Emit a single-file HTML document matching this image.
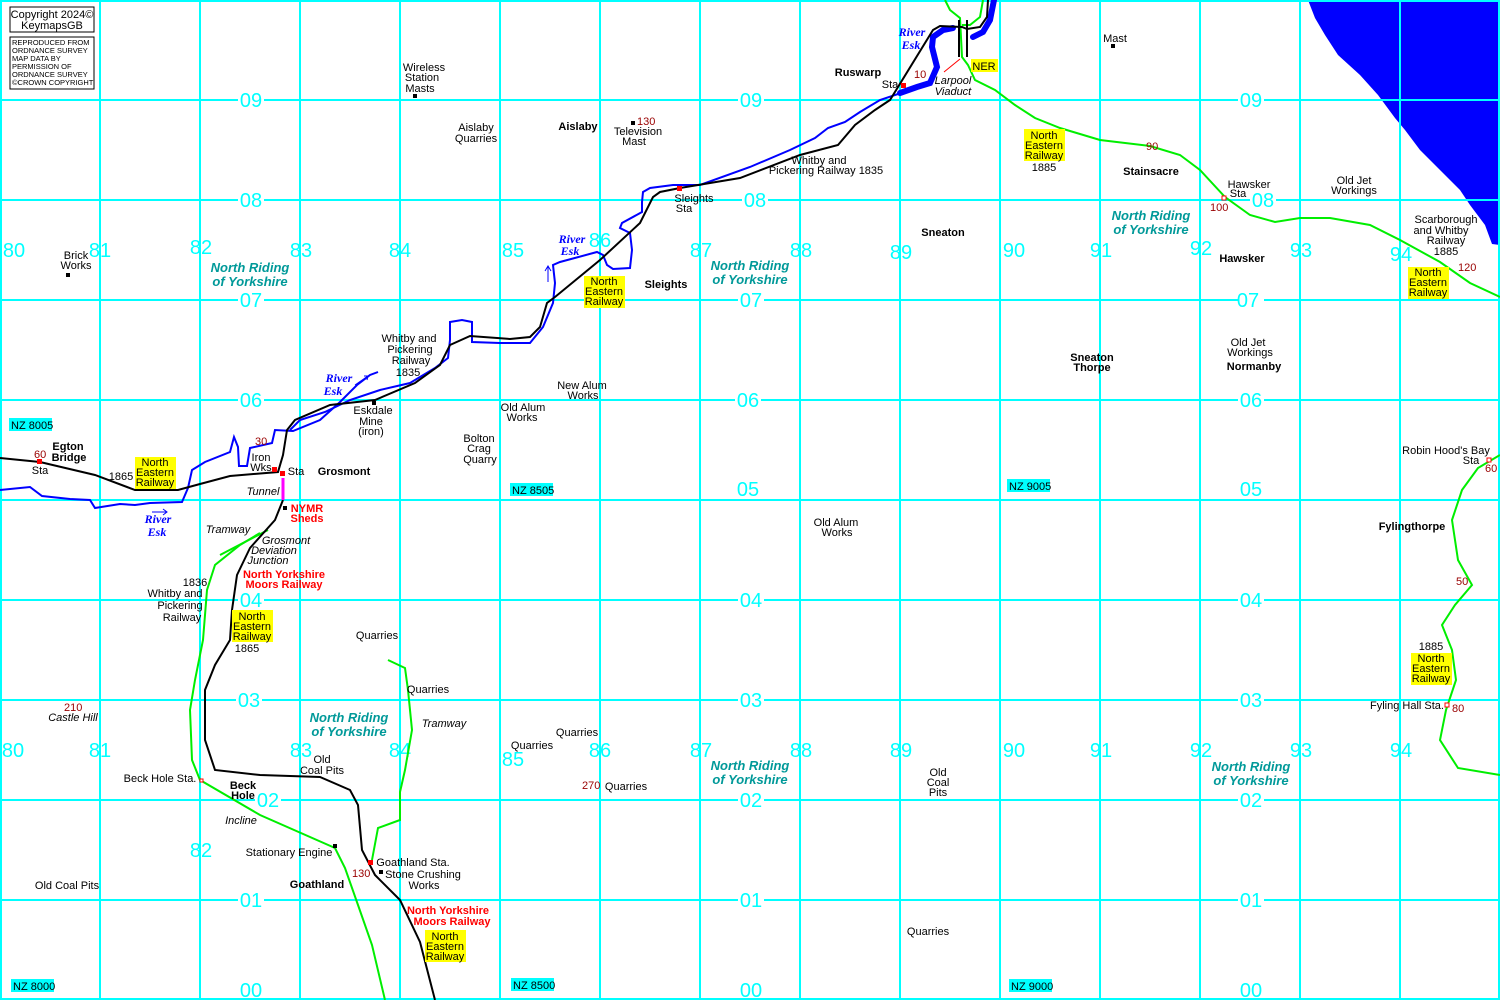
<!DOCTYPE html>
<html><head><meta charset="utf-8"><style>
html,body{margin:0;padding:0;background:#fff}
svg{display:block}
text{font-family:"Liberation Sans",sans-serif;font-size:11px;fill:#000}
.g{font-size:20px;fill:#00ffff;text-anchor:middle}
.c{text-anchor:middle}
.b{font-weight:bold}
.nr{font-weight:bold;font-style:italic;font-size:13px;fill:#009999;text-anchor:middle}
.red{fill:#990000}
.rb{fill:#ff0000;font-weight:bold;text-anchor:middle}
.riv{fill:#0000ff;font-weight:bold;font-style:italic;font-size:12px;font-family:"Liberation Serif",serif;text-anchor:middle}
.it{font-style:italic;text-anchor:middle}
</style></head><body>
<svg width="1500" height="1000" viewBox="0 0 1500 1000" xmlns="http://www.w3.org/2000/svg">
<rect width="1500" height="1000" fill="#fff"/>
<path d="M1308,0 L1500,0 L1500,245 L1492,244 L1485,225 L1470,205 L1460,190 L1440,170 L1420,150 L1405,130 L1395,118 L1378,95 L1360,75 L1338,55 L1325,35 L1315,18 Z" fill="#0000ff"/>
<g stroke="#00ffff" stroke-width="2">
<path d="M1,0V1000M100,0V1000M200,0V1000M300,0V1000M400,0V1000M500,0V1000M600,0V1000M700,0V1000M800,0V1000M900,0V1000M1000,0V1000M1100,0V1000M1200,0V1000M1300,0V1000M1400,0V1000M1499,0V1000"/>
<path d="M0,1H1500M0,100H1500M0,200H1500M0,300H1500M0,400H1500M0,500H1500M0,600H1500M0,700H1500M0,800H1500M0,900H1500M0,999H1500"/>
</g>
<g>
<rect x="238" y="90" width="26" height="20" fill="#fff"/><rect x="738" y="90" width="26" height="20" fill="#fff"/><rect x="1238" y="90" width="26" height="20" fill="#fff"/>
<rect x="238" y="190" width="26" height="20" fill="#fff"/><rect x="742" y="190" width="26" height="20" fill="#fff"/><rect x="1250" y="190" width="26" height="20" fill="#fff"/>
<rect x="238" y="290" width="26" height="20" fill="#fff"/><rect x="738" y="290" width="26" height="20" fill="#fff"/><rect x="1238" y="290" width="26" height="20" fill="#fff"/>
<rect x="238" y="390" width="26" height="20" fill="#fff"/><rect x="735" y="390" width="26" height="20" fill="#fff"/><rect x="1238" y="390" width="26" height="20" fill="#fff"/>
<rect x="238" y="590" width="26" height="20" fill="#fff"/><rect x="738" y="590" width="26" height="20" fill="#fff"/><rect x="1238" y="590" width="26" height="20" fill="#fff"/>
<rect x="236" y="690" width="26" height="20" fill="#fff"/><rect x="738" y="690" width="26" height="20" fill="#fff"/><rect x="1238" y="690" width="26" height="20" fill="#fff"/>
<rect x="255" y="790" width="26" height="20" fill="#fff"/><rect x="738" y="790" width="26" height="20" fill="#fff"/><rect x="1238" y="790" width="26" height="20" fill="#fff"/>
<rect x="238" y="890" width="26" height="20" fill="#fff"/><rect x="738" y="890" width="26" height="20" fill="#fff"/><rect x="1238" y="890" width="26" height="20" fill="#fff"/>
</g>
<g class="g">
<text x="251" y="107" class="g">09</text><text x="751" y="107" class="g">09</text><text x="1251" y="107" class="g">09</text>
<text x="251" y="207" class="g">08</text><text x="755" y="207" class="g">08</text><text x="1263" y="207" class="g">08</text>
<text x="251" y="307" class="g">07</text><text x="751" y="307" class="g">07</text><text x="1248" y="307" class="g">07</text>
<text x="251" y="407" class="g">06</text><text x="748" y="407" class="g">06</text><text x="1251" y="407" class="g">06</text>
<text x="748" y="496" class="g">05</text><text x="1251" y="496" class="g">05</text>
<text x="251" y="607" class="g">04</text><text x="751" y="607" class="g">04</text><text x="1251" y="607" class="g">04</text>
<text x="249" y="707" class="g">03</text><text x="751" y="707" class="g">03</text><text x="1251" y="707" class="g">03</text>
<text x="268" y="807" class="g">02</text><text x="751" y="807" class="g">02</text><text x="1251" y="807" class="g">02</text>
<text x="251" y="907" class="g">01</text><text x="751" y="907" class="g">01</text><text x="1251" y="907" class="g">01</text>
<text x="251" y="997" class="g">00</text><text x="751" y="997" class="g">00</text><text x="1251" y="997" class="g">00</text>
<text x="14" y="257" class="g">80</text><text x="100" y="257" class="g">81</text><text x="201" y="254" class="g">82</text><text x="301" y="257" class="g">83</text><text x="400" y="257" class="g">84</text><text x="513" y="257" class="g">85</text><text x="600" y="247" class="g">86</text><text x="701" y="257" class="g">87</text><text x="801" y="257" class="g">88</text><text x="901" y="259" class="g">89</text><text x="1014" y="257" class="g">90</text><text x="1101" y="257" class="g">91</text><text x="1201" y="255" class="g">92</text><text x="1301" y="257" class="g">93</text><text x="1401" y="261" class="g">94</text>
<text x="13" y="757" class="g">80</text><text x="100" y="757" class="g">81</text><text x="201" y="857" class="g">82</text><text x="301" y="757" class="g">83</text><text x="400" y="757" class="g">84</text><text x="513" y="766" class="g">85</text><text x="600" y="757" class="g">86</text><text x="701" y="757" class="g">87</text><text x="801" y="757" class="g">88</text><text x="901" y="757" class="g">89</text><text x="1014" y="757" class="g">90</text><text x="1101" y="757" class="g">91</text><text x="1201" y="757" class="g">92</text><text x="1301" y="757" class="g">93</text><text x="1401" y="757" class="g">94</text>
</g>
<g>
<rect x="9" y="418" width="43" height="13" fill="#00ffff"/><text x="11" y="429">NZ 8005</text>
<rect x="510" y="483" width="43" height="13" fill="#00ffff"/><text x="512" y="494">NZ 8505</text>
<rect x="1007" y="479" width="43" height="13" fill="#00ffff"/><text x="1009" y="490">NZ 9005</text>
<rect x="11" y="979" width="43" height="13" fill="#00ffff"/><text x="13" y="990">NZ 8000</text>
<rect x="511" y="978" width="43" height="13" fill="#00ffff"/><text x="513" y="989">NZ 8500</text>
<rect x="1009" y="979" width="43" height="13" fill="#00ffff"/><text x="1011" y="990">NZ 9000</text>
</g>
<rect x="10" y="7" width="84" height="25" fill="#fff" stroke="#000"/>
<text x="52" y="18" class="c">Copyright 2024©</text><text x="52" y="29" class="c">KeymapsGB</text>
<rect x="10" y="37" width="84" height="52" fill="#fff" stroke="#000"/>
<g><text x="12" y="45" style="font-size:7.5px">REPRODUCED FROM</text><text x="12" y="53" style="font-size:7.5px">ORDNANCE SURVEY</text><text x="12" y="61" style="font-size:7.5px">MAP DATA BY</text><text x="12" y="69" style="font-size:7.5px">PERMISSION OF</text><text x="12" y="77" style="font-size:7.5px">ORDNANCE SURVEY</text><text x="12" y="85" style="font-size:7.5px">©CROWN COPYRIGHT</text></g>
<!-- rivers -->
<g fill="none" stroke="#0000ff" stroke-width="2">
<path d="M0,490 L30,487 L42,496 L70,499 L90,500 L95,508 L120,504 L135,505 L150,503 L182,502 L188,488 L192,470 L205,462 L230,452 L234,437 L238,447 L239,466 L247,466 L250,448 L272,443 L275,430 L293,431 L320,420 L340,402 L357,385 L370,375 L378,372"/>
<path d="M290,430 L300,420 L325,412 L350,400 L380,390 L410,383 L435,368 L448,358 L450,340 L450,322 L462,320 L472,322 L472,342 L500,343 L530,343 L543,327 L553,303 L555,283 L553,265 L560,262 L597,252 L603,255 L607,265 L613,269 L630,268 L632,250 L630,233 L620,228 L622,223 L642,212 L642,202 L643,192 L650,188 L673,185 L700,185 L750,167 L790,150 L815,138 L828,128 L845,122 L860,112 L880,100 L898,94"/>
<path d="M548,282 L548,267 M545,271 L548,266 L551,271" stroke-width="1"/>
<path d="M355,385 L368,376 M364,376 L368,376 L367,380" stroke-width="1"/>
<path d="M152,512 L167,512 M163,509 L167,512 L163,515" stroke-width="1"/>
</g>
<g fill="none" stroke="#0000ff" stroke-width="6" stroke-linecap="round">
<path d="M900,93 L917,87 L930,83 L937,67 L932,47 L933,37 L943,30 L953,28"/>
<path d="M973,37 L983,32 L990,20 L994,0"/>
</g>
<!-- green railways -->
<g fill="none" stroke="#00ee00" stroke-width="2">
<path d="M945,0 L950,10 L960,18 L962,57 L968,65 L975,80 L995,90 L1015,105 L1035,118 L1060,128 L1100,140 L1150,146 L1180,155 L1200,170 L1225,197 L1250,215 L1275,222 L1300,218 L1330,218 L1370,225 L1400,240 L1440,262 L1470,283 L1500,297"/>
<path d="M983,0 L980,17 L970,25 L962,25"/>
<path d="M1500,455 L1478,468 L1462,490 L1452,520 L1458,560 L1472,585 L1455,605 L1442,625 L1452,650 L1456,680 L1446,710 L1440,740 L1458,768 L1500,775"/>
<path d="M260,533 L240,545 L215,565 L207,590 L203,640 L195,680 L190,710 L192,760 L200,780 L260,815 L335,848 L345,868 L358,905 L372,945 L385,1000"/>
<path d="M220,555 L268,530"/>
<path d="M388,660 L405,668 L408,690 L412,730 L405,770 L400,792 L400,820 L378,828 L372,860"/>
</g>
<!-- black railway -->
<g fill="none" stroke="#000" stroke-width="2">
<path d="M0,458 L40,462 L95,475 L135,490 L178,490 L200,484 L230,476 L278,472 L283,455 L287,430 L295,420 L330,405 L375,400 L415,383 L440,365 L450,345 L470,336 L510,339 L530,337 L540,327 L547,303 L555,297 L600,260 L640,223 L653,197 L660,192 L680,188 L740,178 L800,155 L838,145 L855,125 L875,110 L890,100 L933,30 L940,26 L962,27 L967,29 L980,27 L987,17 L988,0"/>
<path d="M283,500 L275,520 L250,548 L237,575 L232,610 L230,640 L215,665 L205,690 L205,740 L215,770 L260,775 L320,777 L350,790 L358,805 L362,850 L375,875 L400,900 L420,942 L435,1000"/>
<path d="M959,20 L959,57 M967,20 L967,57"/>
</g>
<path d="M283,478 L283,500" stroke="#ff00ff" stroke-width="3"/>
<path d="M944,72 L960,59" stroke="#ff0000" stroke-width="1"/>
<g fill="#ff0000">
<rect x="37" y="459" width="5" height="5"/><rect x="280" y="471" width="5" height="5"/><rect x="272" y="467" width="5" height="5"/>
<rect x="901" y="83" width="5" height="5"/><rect x="677" y="186" width="5" height="5"/><rect x="368" y="860" width="5" height="5"/>
</g>
<g fill="#fff" stroke="#ff0000"><rect x="1222" y="196" width="4" height="4"/><rect x="1487" y="458" width="4" height="4"/><rect x="1445" y="703" width="4" height="4"/><rect x="200" y="779" width="3" height="3"/></g>
<g fill="#000"><rect x="66" y="273" width="4" height="4"/><rect x="413" y="94" width="4" height="4"/><rect x="631" y="121" width="4" height="4"/><rect x="1111" y="44" width="4" height="4"/><rect x="372" y="401" width="4" height="4"/><rect x="283" y="506" width="4" height="4"/><rect x="333" y="844" width="4" height="4"/><rect x="379" y="870" width="4" height="4"/></g>
<g fill="#ffff00">
<rect x="135" y="457" width="41" height="32"/><rect x="584" y="276" width="41" height="32"/><rect x="232" y="610" width="41" height="32"/><rect x="1024" y="129" width="41" height="32"/><rect x="1408" y="267" width="41" height="32"/><rect x="1411" y="653" width="41" height="32"/><rect x="425" y="930" width="41" height="32"/><rect x="971" y="59" width="27" height="13"/>
</g>
<g class="c">
<text x="155" y="466" class="c">North</text><text x="155" y="476" class="c">Eastern</text><text x="155" y="486" class="c">Railway</text>
<text x="604" y="285" class="c">North</text><text x="604" y="295" class="c">Eastern</text><text x="604" y="305" class="c">Railway</text>
<text x="252" y="620" class="c">North</text><text x="252" y="630" class="c">Eastern</text><text x="252" y="640" class="c">Railway</text><text x="247" y="652" class="c">1865</text>
<text x="1044" y="139" class="c">North</text><text x="1044" y="149" class="c">Eastern</text><text x="1044" y="159" class="c">Railway</text><text x="1044" y="171" class="c">1885</text>
<text x="1428" y="276" class="c">North</text><text x="1428" y="286" class="c">Eastern</text><text x="1428" y="296" class="c">Railway</text>
<text x="1431" y="662" class="c">North</text><text x="1431" y="672" class="c">Eastern</text><text x="1431" y="682" class="c">Railway</text><text x="1431" y="650" class="c">1885</text>
<text x="445" y="940" class="c">North</text><text x="445" y="950" class="c">Eastern</text><text x="445" y="960" class="c">Railway</text>
<text x="984" y="70" class="c">NER</text>
</g>
<g>
<text x="250" y="272" class="nr">North Riding</text><text x="250" y="286" class="nr">of Yorkshire</text>
<text x="750" y="270" class="nr">North Riding</text><text x="750" y="284" class="nr">of Yorkshire</text>
<text x="1151" y="220" class="nr">North Riding</text><text x="1151" y="234" class="nr">of Yorkshire</text>
<text x="349" y="722" class="nr">North Riding</text><text x="349" y="736" class="nr">of Yorkshire</text>
<text x="750" y="770" class="nr">North Riding</text><text x="750" y="784" class="nr">of Yorkshire</text>
<text x="1251" y="771" class="nr">North Riding</text><text x="1251" y="785" class="nr">of Yorkshire</text>
</g>
<text x="912" y="36" class="riv">River</text><text x="911" y="49" class="riv">Esk</text>
<text x="572" y="243" class="riv">River</text><text x="570" y="255" class="riv">Esk</text>
<text x="339" y="382" class="riv">River</text><text x="333" y="395" class="riv">Esk</text>
<text x="158" y="523" class="riv">River</text><text x="157" y="536" class="riv">Esk</text>
<g class="b">
<text x="68" y="450" class="c b">Egton</text><text x="69" y="461" class="c b">Bridge</text>
<text x="344" y="475" class="c b">Grosmont</text>
<text x="858" y="76" class="c b">Ruswarp</text>
<text x="578" y="130" class="c b">Aislaby</text>
<text x="666" y="288" class="c b">Sleights</text>
<text x="943" y="236" class="c b">Sneaton</text>
<text x="1151" y="175" class="c b">Stainsacre</text>
<text x="1242" y="262" class="c b">Hawsker</text>
<text x="1092" y="361" class="c b">Sneaton</text><text x="1092" y="371" class="c b">Thorpe</text>
<text x="1254" y="370" class="c b">Normanby</text>
<text x="1412" y="530" class="c b">Fylingthorpe</text>
<text x="243" y="789" class="c b">Beck</text><text x="243" y="799" class="c b">Hole</text>
<text x="317" y="888" class="c b">Goathland</text>
</g>
<text x="307" y="512" class="rb">NYMR</text><text x="307" y="522" class="rb">Sheds</text>
<text x="284" y="578" class="rb">North Yorkshire</text><text x="284" y="588" class="rb">Moors Railway</text>
<text x="448" y="914" class="rb">North Yorkshire</text><text x="452" y="925" class="rb">Moors Railway</text>
<g class="red">
<text x="34" y="458" class="red">60</text><text x="255" y="445" class="red">30</text><text x="914" y="78" class="red">10</text>
<text x="637" y="125" class="red">130</text><text x="1146" y="150" class="red">90</text><text x="1210" y="211" class="red">100</text>
<text x="1458" y="271" class="red">120</text><text x="1485" y="472" class="red">60</text><text x="1456" y="585" class="red">50</text>
<text x="1452" y="712" class="red">80</text><text x="64" y="711" class="red">210</text><text x="582" y="789" class="red">270</text><text x="352" y="877" class="red">130</text>
</g>
<text x="73" y="721" class="it">Castle Hill</text>
<text x="263" y="495" class="it">Tunnel</text>
<text x="228" y="533" class="it">Tramway</text>
<text x="286" y="544" class="it">Grosmont</text><text x="274" y="554" class="it">Deviation</text><text x="268" y="564" class="it">Junction</text>
<text x="444" y="727" class="it">Tramway</text>
<text x="241" y="824" class="it">Incline</text>
<text x="953" y="84" class="it">Larpool</text><text x="953" y="95" class="it">Viaduct</text>
<g class="c">
<text x="76" y="259" class="c">Brick</text><text x="76" y="269" class="c">Works</text>
<text x="424" y="71" class="c">Wireless</text><text x="422" y="81" class="c">Station</text><text x="420" y="92" class="c">Masts</text>
<text x="476" y="131" class="c">Aislaby</text><text x="476" y="142" class="c">Quarries</text>
<text x="638" y="135" class="c">Television</text><text x="634" y="145" class="c">Mast</text>
<text x="1115" y="42" class="c">Mast</text>
<text x="890" y="88" class="c">Sta</text>
<text x="819" y="164" class="c">Whitby and</text><text x="826" y="174" class="c">Pickering Railway 1835</text>
<text x="694" y="202" class="c">Sleights</text><text x="684" y="212" class="c">Sta</text>
<text x="1249" y="188" class="c">Hawsker</text><text x="1238" y="197" class="c">Sta</text>
<text x="1354" y="184" class="c">Old Jet</text><text x="1354" y="194" class="c">Workings</text>
<text x="1446" y="223" class="c">Scarborough</text><text x="1441" y="234" class="c">and Whitby</text><text x="1446" y="244" class="c">Railway</text><text x="1446" y="255" class="c">1885</text>
<text x="1248" y="346" class="c">Old Jet</text><text x="1250" y="356" class="c">Workings</text>
<text x="409" y="342" class="c">Whitby and</text><text x="410" y="353" class="c">Pickering</text><text x="411" y="364" class="c">Railway</text><text x="408" y="376" class="c">1835</text>
<text x="582" y="389" class="c">New Alum</text><text x="583" y="399" class="c">Works</text>
<text x="523" y="411" class="c">Old Alum</text><text x="522" y="421" class="c">Works</text>
<text x="373" y="414" class="c">Eskdale</text><text x="371" y="425" class="c">Mine</text><text x="371" y="435" class="c">(iron)</text>
<text x="479" y="442" class="c">Bolton</text><text x="479" y="452" class="c">Crag</text><text x="480" y="463" class="c">Quarry</text>
<text x="261" y="461" class="c">Iron</text><text x="261" y="471" class="c">Wks</text>
<text x="296" y="475" class="c">Sta</text>
<text x="40" y="474" class="c">Sta</text>
<text x="121" y="480" class="c">1865</text>
<text x="1446" y="454" class="c">Robin Hood's Bay</text><text x="1471" y="464" class="c">Sta</text>
<text x="836" y="526" class="c">Old Alum</text><text x="837" y="536" class="c">Works</text>
<text x="195" y="586" class="c">1836</text><text x="175" y="597" class="c">Whitby and</text><text x="180" y="609" class="c">Pickering</text><text x="182" y="621" class="c">Railway</text>
<text x="377" y="639" class="c">Quarries</text>
<text x="428" y="693" class="c">Quarries</text>
<text x="1407" y="709" class="c">Fyling Hall Sta.</text>
<text x="577" y="736" class="c">Quarries</text>
<text x="532" y="749" class="c">Quarries</text>
<text x="322" y="763" class="c">Old</text><text x="322" y="774" class="c">Coal Pits</text>
<text x="160" y="782" class="c">Beck Hole Sta.</text>
<text x="626" y="790" class="c">Quarries</text>
<text x="938" y="776" class="c">Old</text><text x="938" y="786" class="c">Coal</text><text x="938" y="796" class="c">Pits</text>
<text x="289" y="856" class="c">Stationary Engine</text>
<text x="413" y="866" class="c">Goathland Sta.</text>
<text x="423" y="878" class="c">Stone Crushing</text><text x="424" y="889" class="c">Works</text>
<text x="67" y="889" class="c">Old Coal Pits</text>
<text x="928" y="935" class="c">Quarries</text>
</g>
</svg>
</body></html>
